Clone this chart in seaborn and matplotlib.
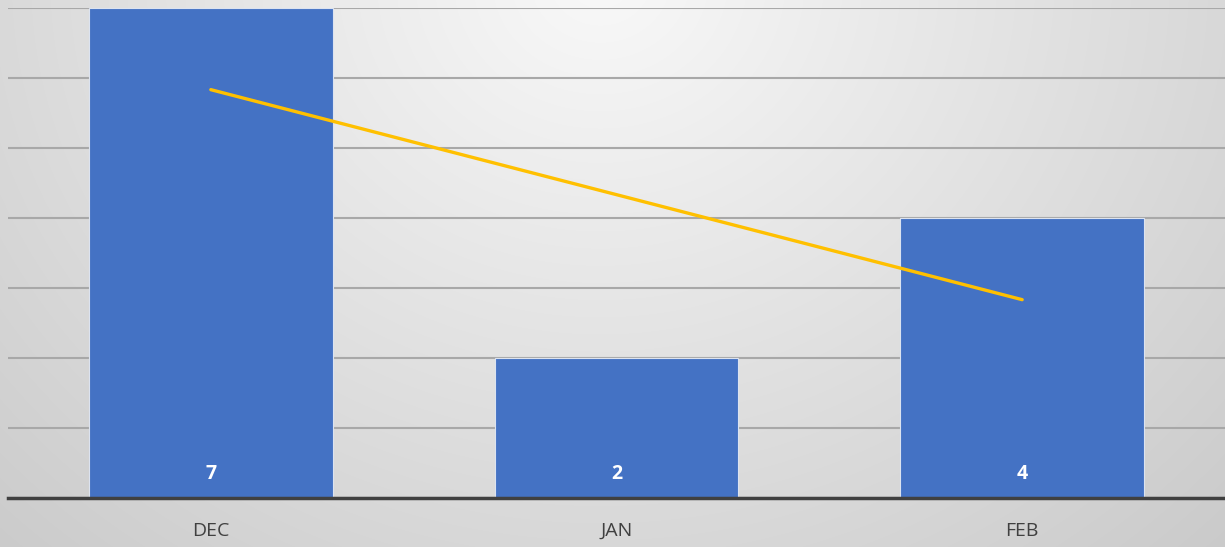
import matplotlib.pyplot as plt
import seaborn as sns
import numpy as np
import pandas as pd

months = ['DEC', 'JAN', 'FEB']
counts = [7, 2, 4]

df = pd.DataFrame({'month': months, 'count': counts, 'pos': range(len(months))})

sns.set_style('white')
plt.rcParams['font.family'] = ['Open Sans', 'DejaVu Sans']

fig = plt.figure(figsize=(12.25, 5.47), dpi=100)

# radial grey gradient background
bg = fig.add_axes([0, 0, 1, 1])
yy, xx = np.mgrid[0:547, 0:1225]
r = np.sqrt(((xx - 600) / 1225 / 0.8) ** 2 + ((yy + 20) / 547 / 1.6) ** 2)
shade = 0.975 - 0.2 * np.clip(r, 0, 1)
bg.imshow(np.dstack([shade] * 3), aspect='auto', extent=[0, 1, 0, 1])
bg.axis('off')

ax = fig.add_axes([8 / 1225, 49 / 547, 1217 / 1225, 490 / 547])
ax.patch.set_alpha(0)

sns.barplot(data=df, x='month', y='count', color='#4472C4', saturation=1,
            width=0.6, edgecolor='#dce3f0', linewidth=0.8, ax=ax, zorder=3)
sns.regplot(data=df, x='pos', y='count', scatter=False, ci=None, truncate=True,
            line_kws={'color': '#FFC000', 'lw': 2.4, 'zorder': 4}, ax=ax)

for i, v in enumerate(counts):
    ax.text(i, 0.34, str(v), color='white', fontsize=14, fontweight='bold',
            ha='center', va='center', zorder=5)

ax.set_xlim(-0.5, 2.5)
ax.set_ylim(0, 7)
ax.set_yticks(range(0, 8))
ax.yaxis.grid(True, color='#a8a8a8', lw=1.5)
ax.set_axisbelow(True)
ax.set_yticklabels([])
ax.tick_params(axis='y', length=0)
ax.tick_params(axis='x', length=0, labelsize=14, labelcolor='#404040', pad=17)
ax.set_xlabel('')
ax.set_ylabel('')
for s in ['top', 'right', 'left']:
    ax.spines[s].set_visible(False)
ax.spines['bottom'].set_color('#404040')
ax.spines['bottom'].set_linewidth(2.5)
ax.spines['bottom'].set_zorder(6)

fig.savefig('out.png', dpi=100)
